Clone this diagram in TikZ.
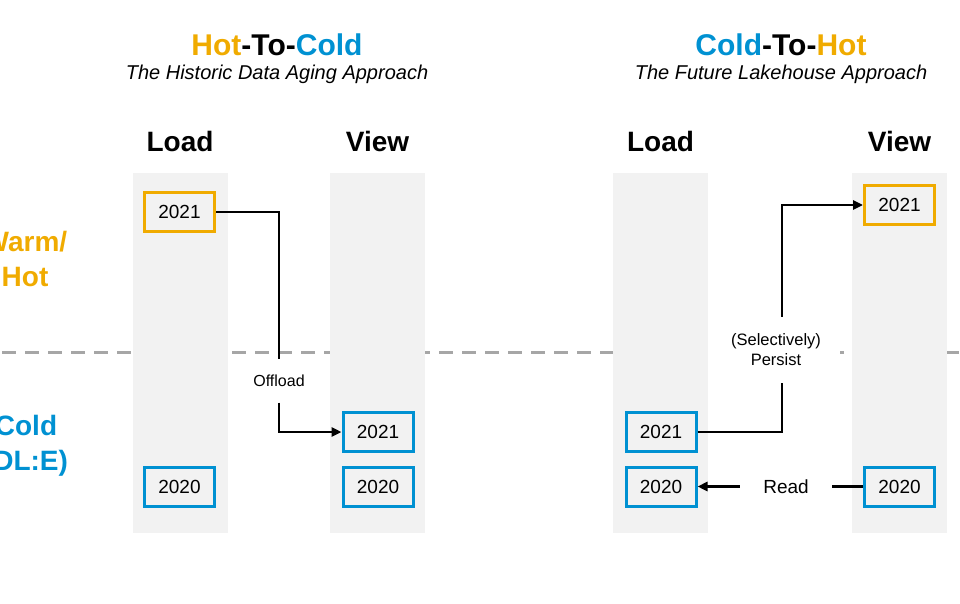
\documentclass[tikz,border=0pt]{standalone}
\usepackage{fontspec}
\setmainfont{Liberation Sans}
\usepackage{tikz}
\usetikzlibrary{positioning,arrows.meta}
\definecolor{hotgold}{HTML}{F0AB00}
\definecolor{coldblue}{HTML}{0091D2}
\definecolor{bandgray}{HTML}{F2F2F2}
\definecolor{tiergray}{HTML}{A6A6A6}
\begin{document}
\begin{tikzpicture}[x=1pt,y=-1pt,
  band/.style={fill=bandgray,minimum width=95pt,minimum height=360pt,inner sep=0pt},
  year/.style={draw=#1,line width=3pt,fill=bandgray,minimum width=70pt,minimum height=39pt,inner sep=0pt,font=\fontsize{19}{22}\selectfont},
  head/.style={font=\fontsize{28}{32}\bfseries\selectfont},
  tier/.style={align=center,text=#1,font=\fontsize{28}{35}\bfseries\selectfont},
  flow/.style={line width=2.5pt,black},
  tip/.style={-{Triangle[length=10pt,width=9pt]}}]
\useasboundingbox (0,0) rectangle (960,604);
\clip (0,0) rectangle (960,604);
\draw [tiergray,line width=3pt,dash pattern=on 14pt off 9pt] (2,352) -- (960,352);
\node [band] (loadL) at (180,353) {};
\node [band] (viewL) at (377.5,353) {};
\node [band] (loadR) at (660.5,353) {};
\node [band] (viewR) at (899.5,353) {};
\node [font=\fontsize{30}{33}\bfseries\selectfont] (titleL) at (277,45) {\textcolor{hotgold}{Hot}-To-\textcolor{coldblue}{Cold}};
\node [font=\fontsize{20}{24}\itshape\selectfont] (subL) at (277,74) {The Historic Data Aging Approach};
\node [font=\fontsize{30}{33}\bfseries\selectfont] (titleR) at (781,45) {\textcolor{coldblue}{Cold}-To-\textcolor{hotgold}{Hot}};
\node [font=\fontsize{20}{24}\itshape\selectfont] (subR) at (781,74) {The Future Lakehouse Approach};
\node [head] at (180,141) {Load};
\node [head] at (377.5,141) {View};
\node [head] at (660.5,141) {Load};
\node [head] at (899.5,141) {View};
\node [tier=hotgold] (warm) at (25,258.5) {Warm/\\Hot};
\node [tier=coldblue] (cold) at (26,445.5) {Cold\\(DL:E)};
\node [year=hotgold] (l21) at (179.5,212) {2021};
\node [year=coldblue] (l20) at (179.5,487) {2020};
\node [year=coldblue] (v21) at (378,432) {2021};
\node [year=coldblue] (v20) at (378,486.5) {2020};
\node [year=coldblue] (r21) at (661,432) {2021};
\node [year=coldblue] (r20) at (661,486.5) {2020};
\node [year=hotgold] (rv21) at (899.5,205) {2021};
\node [year=coldblue] (rv20) at (899.5,486.5) {2020};
\node [minimum height=43pt,inner sep=0pt,font=\fontsize{16}{19}\selectfont] (offload) at (279,381) {Offload};
\node [minimum width=127pt,minimum height=66pt,inner sep=0pt,fill=white,align=center,font=\fontsize{16.5}{20}\selectfont] (persist) at (776,350) {(Selectively)\\Persist};
\node [minimum width=92pt,inner sep=0pt,font=\fontsize{19}{22}\selectfont] (read) at (786,486.5) {Read};
\draw [flow] (l21.east) -| (offload.north);
\draw [flow,tip] (offload.south) |- (v21.west);
\draw [flow] (r21.east) -| ([xshift=6pt]persist.south);
\draw [flow,tip] ([xshift=6pt]persist.north) |- (rv21.west);
\draw [flow] (rv20.west) -- (read.east);
\draw [flow,tip] (read.west) -- (r20.east);
\end{tikzpicture}
\end{document}
